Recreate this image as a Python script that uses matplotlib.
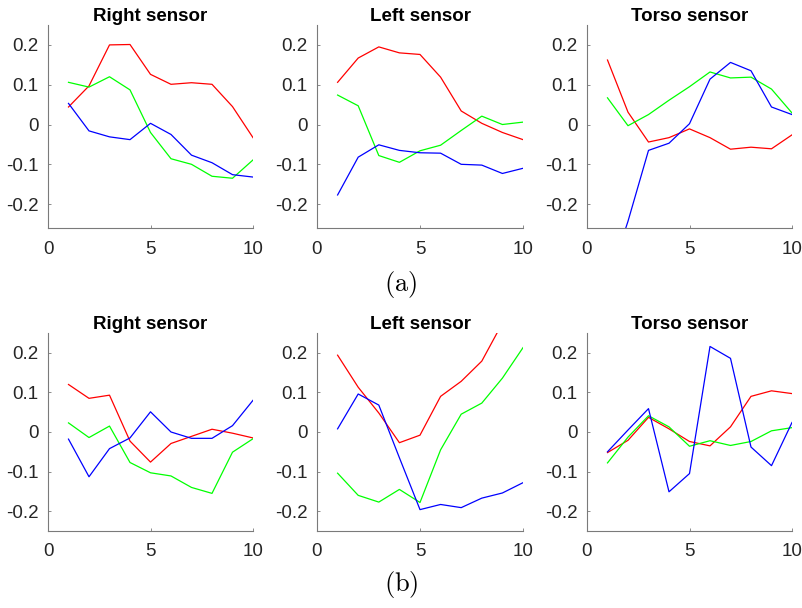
import matplotlib
matplotlib.use("Agg")
import matplotlib.pyplot as plt
import numpy as np

plt.rcParams['mathtext.fontset'] = 'cm'

x = list(range(1, 11))
titles = ["Right sensor", "Left sensor", "Torso sensor"]
xticks = [0, 5, 10]
yticks = [-0.2, -0.1, 0, 0.1, 0.2]
yticklabels = ["-0.2", "-0.1", "0", "0.1", "0.2"]

# (a) row
a_right_red = [0.044, 0.097, 0.200, 0.201, 0.126, 0.101, 0.105, 0.101, 0.045, -0.033]
a_right_green = [0.106, 0.094, 0.120, 0.087, -0.020, -0.086, -0.100, -0.130, -0.135, -0.089]
a_right_blue = [0.053, -0.016, -0.031, -0.038, 0.003, -0.025, -0.077, -0.096, -0.126, -0.132]

a_left_red = [0.106, 0.167, 0.195, 0.180, 0.176, 0.119, 0.034, 0.003, -0.020, -0.038]
a_left_green = [0.074, 0.047, -0.078, -0.095, -0.066, -0.052, -0.015, 0.021, 0.000, 0.006]
a_left_blue = [-0.177, -0.082, -0.051, -0.065, -0.071, -0.072, -0.100, -0.102, -0.123, -0.110]

a_torso_red = [0.162, 0.031, -0.044, -0.033, -0.011, -0.033, -0.062, -0.057, -0.061, -0.026]
a_torso_green = [0.067, -0.003, 0.025, 0.061, 0.095, 0.132, 0.117, 0.119, 0.089, 0.029]
a_torso_blue = [-0.40, -0.243, -0.065, -0.047, 0.002, 0.114, 0.156, 0.135, 0.044, 0.025]

# (b) row
b_right_red = [0.120, 0.085, 0.093, -0.023, -0.076, -0.029, -0.011, 0.007, -0.003, -0.015]
b_right_green = [0.023, -0.014, 0.015, -0.077, -0.103, -0.111, -0.140, -0.155, -0.051, -0.017]
b_right_blue = [-0.018, -0.113, -0.042, -0.015, 0.051, 0.000, -0.016, -0.016, 0.016, 0.080]

b_left_red = [0.194, 0.113, 0.048, -0.027, -0.008, 0.090, 0.128, 0.179, 0.275, 0.33]
b_left_green = [-0.104, -0.160, -0.177, -0.145, -0.178, -0.045, 0.045, 0.073, 0.136, 0.213]
b_left_blue = [0.008, 0.096, 0.068, -0.065, -0.196, -0.183, -0.191, -0.167, -0.154, -0.128]

b_torso_red = [-0.052, -0.021, 0.037, 0.008, -0.024, -0.035, 0.013, 0.090, 0.104, 0.097]
b_torso_green = [-0.078, -0.013, 0.041, 0.013, -0.036, -0.022, -0.034, -0.024, 0.003, 0.011]
b_torso_blue = [-0.050, 0.005, 0.059, -0.151, -0.105, 0.216, 0.186, -0.038, -0.085, 0.024]

rows = [
    [(a_right_red, a_right_green, a_right_blue),
     (a_left_red, a_left_green, a_left_blue),
     (a_torso_red, a_torso_green, a_torso_blue)],
    [(b_right_red, b_right_green, b_right_blue),
     (b_left_red, b_left_green, b_left_blue),
     (b_torso_red, b_torso_green, b_torso_blue)],
]
row_ylims = [(-0.26, 0.25), (-0.25, 0.25)]
row_labels = [r"$\mathrm{(a)}$", r"$\mathrm{(b)}$"]

W, H = 802, 608
fig = plt.figure(figsize=(W / 100, H / 100), dpi=100)

lefts = [48, 317, 587]
rights = [253, 523, 792]
tops = [25, 333]
bottoms = [228, 531]
label_y = [285, 585]
axcol = '#7a7a7a'

for r in range(2):
    for c in range(3):
        l, rr = lefts[c], rights[c]
        t, b = tops[r], bottoms[r]
        ax = fig.add_axes([l / W, 1 - b / H, (rr - l) / W, (b - t) / H])
        red, green, blue = rows[r][c]
        ax.plot(x, red, color='#ff0000', lw=0.9)
        ax.plot(x, green, color='#00ff00', lw=0.9)
        ax.plot(x, blue, color='#0000ff', lw=0.9)
        ax.set_xlim(0, 10)
        ax.set_ylim(*row_ylims[r])
        ax.set_xticks(xticks)
        ax.set_xticklabels([str(v) for v in xticks])
        ax.set_yticks(yticks)
        ax.set_yticklabels(yticklabels)
        for s in ['top', 'right']:
            ax.spines[s].set_visible(False)
        for s in ['left', 'bottom']:
            ax.spines[s].set_color(axcol)
            ax.spines[s].set_linewidth(0.8)
        ax.tick_params(direction='in', length=2.5, width=0.6, color=axcol,
                       labelsize=13.5, labelcolor='#262626')
        ax.tick_params(axis='x', pad=9)
        ax.tick_params(axis='y', pad=7)
        for lab in ax.get_xticklabels() + ax.get_yticklabels():
            lab.set_fontfamily('Liberation Sans')
        ax.set_title(titles[c], fontsize=13.5, fontweight='bold',
                     fontfamily='Liberation Sans', pad=3)
    fig.text(0.5, 1 - label_y[r] / H, row_labels[r], ha='center', va='center',
             fontsize=19)

fig.savefig("out.png", dpi=100)
